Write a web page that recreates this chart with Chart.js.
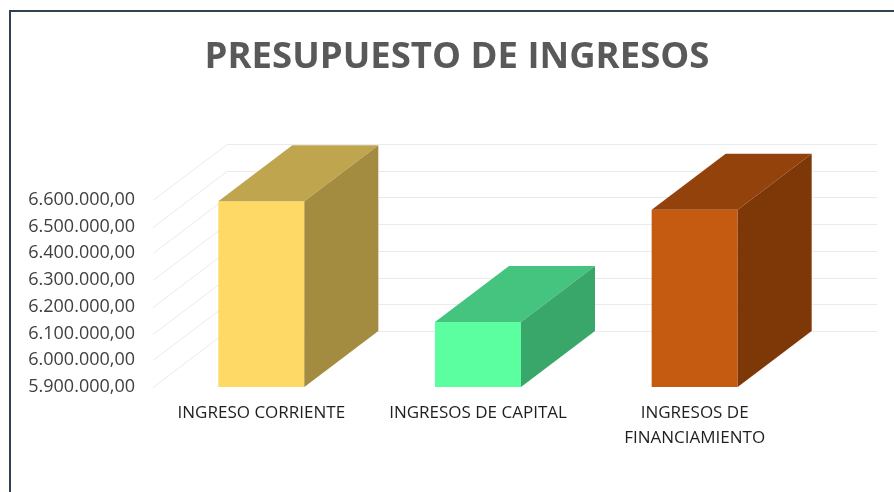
<!DOCTYPE html>
<html>
<head>
<meta charset="utf-8">
<script src="https://cdn.jsdelivr.net/npm/chart.js@4.4.1/dist/chart.umd.min.js"></script>
<style>
    html, body { margin: 0; padding: 0; background: #fff; }
    #chart_wrap { width: 894px; height: 492px; }
</style>
</head>
<body>
<div id="chart_wrap"><canvas id="ingresos_chart" width="894" height="492"></canvas></div>
<script>
const categories = ["INGRESO CORRIENTE", "INGRESOS DE CAPITAL", ["INGRESOS DE", "FINANCIAMIENTO"]];
const amounts = [6595000, 6143000, 6563000];
const frontColors = ["#FFD966", "#5CFFA0", "#C55A11"];
const topColors = ["#C0A54F", "#44C47E", "#94420B"];
const sideColors = ["#A38B40", "#39A66A", "#7E3808"];
const yMin = 5900000;
const yMax = 6600000;
const yStep = 100000;

// depth of the fake 3d boxes
const dx = 74;
const dy = -56;

function formatAmount(v) {
    const int = Math.round(v).toString().replace(/\B(?=(\d{3})+(?!\d))/g, ".");
    return int + ",00";
}

const frame = {
    id: "frame",
    beforeDraw(chart) {
        const ctx = chart.ctx;
        ctx.save();
        ctx.strokeStyle = "#334052";
        ctx.lineWidth = 2;
        ctx.strokeRect(10, 11, 950, 550);
        ctx.restore();
    },
};

const box3d = {
    id: "box3d",
    beforeDatasetsDraw(chart) {
        const { ctx, chartArea: a, scales } = chart;
        ctx.save();
        ctx.strokeStyle = "#ebebeb";
        ctx.lineWidth = 1;
        scales.y.ticks.forEach((t) => {
            const py = Math.round(scales.y.getPixelForValue(t.value)) + 0.5;
            ctx.beginPath();
            ctx.moveTo(a.left, py);
            ctx.lineTo(a.left + dx, py + dy);
            ctx.lineTo(a.right + dx, py + dy);
            ctx.stroke();
        });
        ctx.restore();
    },
    afterDatasetsDraw(chart) {
        const { ctx, chartArea: a } = chart;
        const meta = chart.getDatasetMeta(0);
        ctx.save();
        meta.data.forEach((bar, i) => {
            const p = bar.getProps(["x", "y", "base", "width"], true);
            const base = Math.min(p.base, a.bottom);
            const l = p.x - p.width / 2;
            const r = p.x + p.width / 2;
            const y = p.y;
            ctx.fillStyle = topColors[i];
            ctx.beginPath();
            ctx.moveTo(l, y);
            ctx.lineTo(l + dx, y + dy);
            ctx.lineTo(r + dx, y + dy);
            ctx.lineTo(r, y);
            ctx.closePath();
            ctx.fill();
            ctx.fillStyle = sideColors[i];
            ctx.beginPath();
            ctx.moveTo(r, y);
            ctx.lineTo(r + dx, y + dy);
            ctx.lineTo(r + dx, base + dy);
            ctx.lineTo(r, base);
            ctx.closePath();
            ctx.fill();
        });
        ctx.restore();
    },
};

const ctx = document.getElementById("ingresos_chart");
new Chart(ctx, {
    type: "bar",
    data: {
        labels: categories,
        datasets: [
            {
                data: amounts,
                backgroundColor: frontColors,
                borderWidth: 0,
                categoryPercentage: 1,
                barPercentage: 0.397,
            },
        ],
    },
    options: {
        responsive: false,
        animation: false,
        devicePixelRatio: 1,
        layout: { padding: { left: 20, right: 0, top: 0, bottom: 0 } },
        plugins: {
            legend: { display: false },
            tooltip: { enabled: false },
            title: {
                display: true,
                text: "PRESUPUESTO DE INGRESOS",
                color: "#595959",
                font: { family: "Open Sans", size: 36.5, weight: "bold", lineHeight: 1.2 },
                padding: { top: 36, bottom: 120 },
            },
        },
        scales: {
            x: {
                grid: { display: false },
                border: { display: false },
                afterFit: (s) => { s.height = 105; },
                ticks: {
                    autoSkip: false,
                    maxRotation: 0,
                    padding: 6,
                    color: "#1f1f1f",
                    font: { family: "Open Sans", size: 17, lineHeight: 1.47 },
                },
            },
            y: {
                min: yMin,
                max: yMax,
                grid: { display: false },
                border: { display: false },
                afterFit: (s) => { s.width = 133; },
                ticks: {
                    stepSize: yStep,
                    padding: 10,
                    color: "#404040",
                    font: { family: "Open Sans", size: 18 },
                    callback: (v) => formatAmount(v),
                },
            },
            // empty right axis, only keeps space for the box depth
            yRight: {
                position: "right",
                grid: { display: false },
                border: { display: false },
                ticks: { display: false },
                afterFit: (s) => { s.width = 91; },
            },
        },
    },
    plugins: [frame, box3d],
});
</script>
</body>
</html>
